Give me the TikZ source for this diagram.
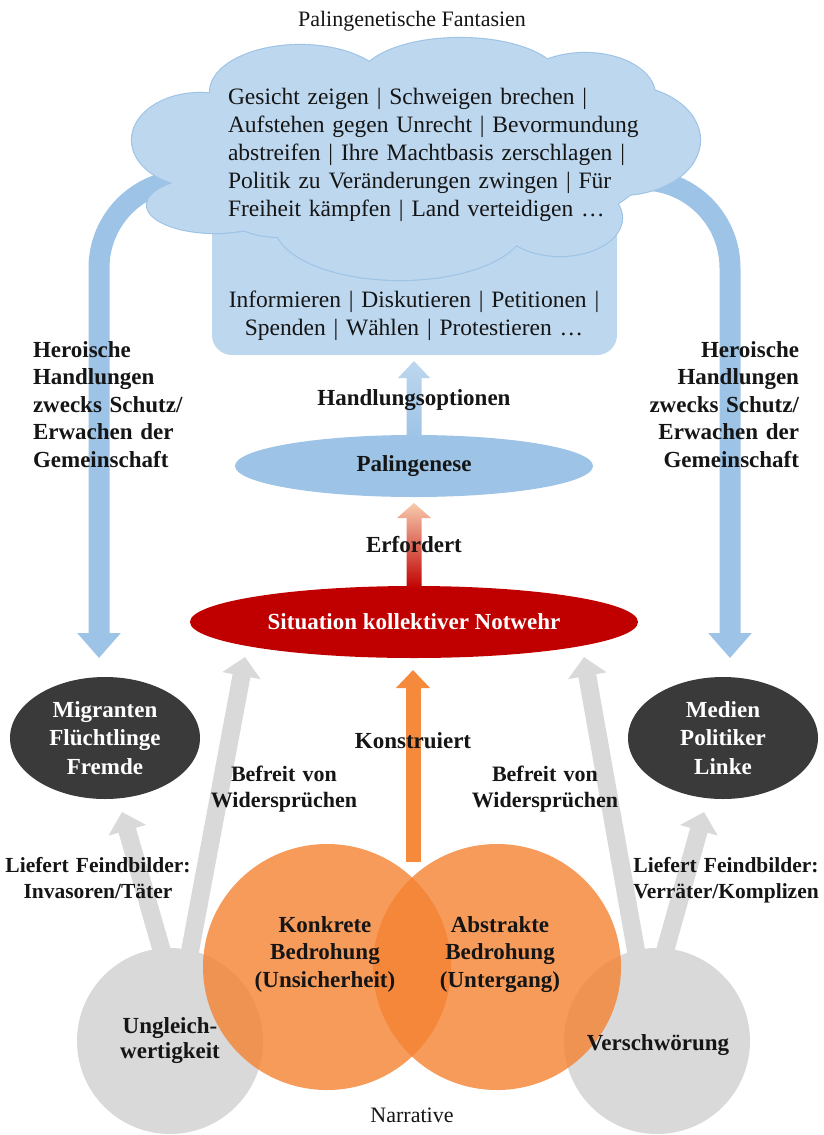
\documentclass[tikz,border=0pt]{standalone}
\usepackage{fontspec}
\setmainfont{Liberation Serif}
\usetikzlibrary{shapes.geometric,arrows.meta}
\definecolor{cloudfill}{HTML}{BDD7EE}
\definecolor{cloudline}{HTML}{9DC3E6}
\definecolor{blueA}{HTML}{9DC3E6}
\definecolor{redA}{HTML}{C00000}
\definecolor{peach}{HTML}{F8CBAD}
\definecolor{darkA}{HTML}{3A3A3A}
\definecolor{greyA}{HTML}{D9D9D9}
\definecolor{orangeA}{RGB}{245,130,50}
\definecolor{orangeB}{RGB}{245,137,60}
\definecolor{ink}{HTML}{151515}
\begin{document}
\begin{tikzpicture}[x=1pt,y=-1pt,
  every node/.style={inner sep=0pt,outer sep=0pt},
  regtxt/.style={font=\fontsize{23.5}{28.2}\selectfont, text=ink},
  boldtxt/.style={font=\fontsize{23}{27.5}\selectfont\bfseries, text=ink},
  midtxt/.style={font=\fontsize{22}{26.5}\selectfont\bfseries, text=ink},
  smalltxt/.style={font=\fontsize{21.5}{26.5}\selectfont\bfseries, text=ink},
  whitetxt/.style={font=\fontsize{23}{28.5}\selectfont\bfseries, text=white},
  bigarrow/.style={draw=blueA, line width=21pt, -{Triangle[width=42pt,length=25pt]}},
  greyarrow/.style={draw=greyA, line width=18pt, -{Triangle[width=38pt,length=19pt]}},
  darkell/.style={ellipse, fill=darkA, minimum width=190pt, minimum height=122pt, whitetxt, align=center},
  greyball/.style={circle, fill=greyA, minimum size=186pt},
  orangeball/.style={ellipse, fill=orangeA, fill opacity=0.8, minimum width=248pt, minimum height=246pt},
  cloudpath/.style={insert path={
    (200,140) ellipse [x radius=68, y radius=47]
    (215,205) ellipse [x radius=68, y radius=28]
    (280,215) ellipse [x radius=50, y radius=22]
    (300,92) ellipse [x radius=90, y radius=47]
    (460,80) ellipse [x radius=100, y radius=42]
    (585,95) ellipse [x radius=70, y radius=42]
    (620,140) ellipse [x radius=80, y radius=55]
    (560,218) ellipse [x radius=62, y radius=38]
    (400,225) ellipse [x radius=125, y radius=55]
    (420,160) ellipse [x radius=230, y radius=85]}},
]
\useasboundingbox (0,0) rectangle (824,1135);

% big curved blue arrows
\coordinate (lStart) at (187,180);
\coordinate (lTip) at (99,658);
\coordinate (rStart) at (642,180);
\coordinate (rTip) at (730,658);
\draw[bigarrow] (lStart) .. controls (138.4,180) and (99,219.4) .. (99,268) -- (lTip);
\draw[bigarrow] (rStart) .. controls (690.6,180) and (730,219.4) .. (730,268) -- (rTip);

% box under the cloud
\node[fill=cloudfill, rounded corners=20pt, minimum width=405pt, minimum height=165pt, anchor=south west] (box) at (212,355) {};

% cloud
\path[draw=cloudline, line width=2.2pt, cloudpath];
\path[fill=cloudfill, cloudpath];

% title and cloud texts
\node[font=\fontsize{22}{26}\selectfont, text=ink, anchor=base] (title) at (412,27) {Palingenetische Fantasien};
\node[regtxt, anchor=base west, text width=440pt, align=left] (cloudtxt) at (228,104)
  {Gesicht zeigen | Schweigen brechen |\\
   Aufstehen gegen Unrecht | Bevormundung\\
   abstreifen | Ihre Machtbasis zerschlagen |\\
   Politik zu Veränderungen zwingen | Für\\
   Freiheit kämpfen | Land verteidigen …};
\node[regtxt, anchor=base, text width=420pt, align=center] (boxtxt) at (414,307)
  {Informieren | Diskutieren | Petitionen |\\
   Spenden | Wählen | Protestieren …};

% Palingenese and Situation
\node[ellipse, fill=blueA, minimum width=358pt, minimum height=62pt, boldtxt] (pal) at (414,466) {Palingenese};
\node[ellipse, fill=redA, minimum width=448pt, minimum height=72pt, whitetxt] (sit) at (414,622) {Situation kollektiver Notwehr};

\shade[top color=cloudfill, bottom color=blueA]
  (pal.north) ++(-7.5,3) -- ++(0,-60) -- ++(-8.5,0) -- ++(16,-17) -- ++(16,17) -- ++(-8.5,0) -- ++(0,60) -- cycle;
\node[boldtxt, anchor=base] (handl) at (414,405) {Handlungsoptionen};

\shade[top color=peach, middle color=peach, bottom color=redA]
  (sit.north) ++(-7.5,3) -- ++(0,-71) -- ++(-9.5,0) -- ++(17,-15) -- ++(17,15) -- ++(-9.5,0) -- ++(0,71) -- cycle;
\node[boldtxt, anchor=base] (erf) at (414,552) {Erfordert};

% dark ellipses
\node[darkell] (mig) at (105,738) {Migranten\\Flüchtlinge\\Fremde};
\node[darkell] (med) at (723,738) {Medien\\Politiker\\Linke};

% heroic labels
\node[boldtxt, anchor=base west, text width=200pt, align=left] (herL) at (33,357)
  {Heroische\\Handlungen\\zwecks Schutz/\\Erwachen der\\Gemeinschaft};
\node[boldtxt, anchor=base east, text width=200pt, align=right] (herR) at (799,357)
  {Heroische\\Handlungen\\zwecks Schutz/\\Erwachen der\\Gemeinschaft};

% grey arrows and circles
\coordinate (ugA) at (165,962);
\coordinate (ugB) at (188,962);
\coordinate (vsA) at (638,962);
\coordinate (vsB) at (662,962);
\coordinate (migTip) at (122,812);
\coordinate (sitTipL) at (245,657);
\coordinate (sitTipR) at (584,657);
\coordinate (medTip) at (704,812);
\draw[greyarrow] (ugA) -- (migTip);
\draw[greyarrow] (ugB) -- (sitTipL);
\draw[greyarrow] (vsA) -- (sitTipR);
\draw[greyarrow] (vsB) -- (medTip);
\node[greyball] (ug) at (170,1041) {};
\node[greyball] (vs) at (657,1041) {};

% orange circles
\node[orangeball] (konk) at (327,967) {};
\node[orangeball] (abst) at (497,967) {};

% Konstruiert arrow
\coordinate (konStart) at (413,862);
\coordinate (konTip) at (413,670);
\draw[draw=orangeB, line width=15pt, -{Triangle[width=33pt,length=18pt]}] (konStart) -- (konTip);

% labels
\node[boldtxt, anchor=base] (konstr) at (413,748) {Konstruiert};
\node[midtxt, anchor=base, text width=200pt, align=center] (befL) at (284,781) {Befreit von\\Widersprüchen};
\node[midtxt, anchor=base, text width=200pt, align=center] (befR) at (545,781) {Befreit von\\Widersprüchen};
\node[smalltxt, anchor=base, text width=220pt, align=center] (liefL) at (98,872) {Liefert Feindbilder:\\Invasoren/Täter};
\node[smalltxt, anchor=base, text width=220pt, align=center] (liefR) at (726,872) {Liefert Feindbilder:\\Verräter/Komplizen};
\node[boldtxt, anchor=base, text width=200pt, align=center] (konktxt) at (325,932) {Konkrete\\Bedrohung\\(Unsicherheit)};
\node[boldtxt, anchor=base, text width=200pt, align=center] (absttxt) at (500,932) {Abstrakte\\Bedrohung\\(Untergang)};
\node[font=\fontsize{23}{25}\selectfont\bfseries, text=ink, anchor=base, text width=160pt, align=center] (ugtxt) at (170,1033) {Ungleich-\\wertigkeit};
\node[boldtxt, anchor=base] (vstxt) at (658,1050) {Verschwörung};
\node[font=\fontsize{22}{26}\selectfont, text=ink, anchor=base] (narr) at (412,1122) {Narrative};
\end{tikzpicture}
\end{document}
